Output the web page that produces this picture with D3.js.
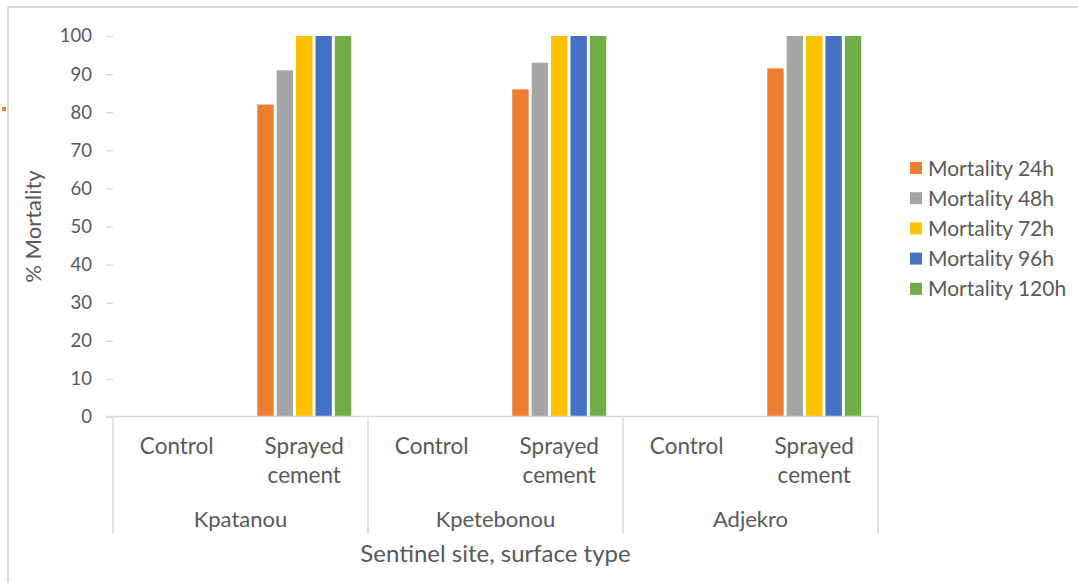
<!DOCTYPE html>
<html>
<head>
<meta charset="utf-8">
<script src="https://cdn.jsdelivr.net/npm/d3@7/dist/d3.min.js"></script>
<style>
  html, body { margin: 0; padding: 0; background: #fff; }
  svg { display: block; }
  text { font-family: Lato, "Open Sans", sans-serif; fill: #595959; }
</style>
</head>
<body>
<svg id="chart" width="1078" height="583"></svg>
<script>
// Sentinel sites and surface types
const sites = ["Kpatanou", "Kpetebonou", "Adjekro"];
const surfaces = ["Control", "Sprayed cement"];
const seriesNames = ["Mortality 24h", "Mortality 48h", "Mortality 72h", "Mortality 96h", "Mortality 120h"];
const seriesColors = ["#ED7D31", "#A5A5A5", "#FFC000", "#4472C4", "#70AD47"];
const yTicks = [0, 10, 20, 30, 40, 50, 60, 70, 80, 90, 100];

// % mortality per series, ordered site by site: [Control, Sprayed cement]
const mortality24h  = [0, 82,   0, 86,   0, 91.5];
const mortality48h  = [0, 91,   0, 93,   0, 100];
const mortality72h  = [0, 100,  0, 100,  0, 100];
const mortality96h  = [0, 100,  0, 100,  0, 100];
const mortality120h = [0, 100,  0, 100,  0, 100];
const seriesValues = [mortality24h, mortality48h, mortality72h, mortality96h, mortality120h];

const svg = d3.select("#chart");
const plot = { left: 113, right: 878, top: 36, bottom: 417 };

// chart frame (left and top edges)
svg.append("line").attr("x1", 8).attr("x2", 8).attr("y1", 7).attr("y2", 583)
  .attr("stroke", "#d9d9d9").attr("stroke-width", 2);
svg.append("line").attr("x1", 8).attr("x2", 1078).attr("y1", 7).attr("y2", 7)
  .attr("stroke", "#d9d9d9").attr("stroke-width", 2);
svg.append("rect").attr("x", 2).attr("y", 107).attr("width", 4).attr("height", 4)
  .attr("fill", "#ED7D31");

// flat list of (site, surface) slots
const slots = [];
sites.forEach(s => surfaces.forEach(t => slots.push({ site: s, surface: t, key: s + "|" + t })));

const x0 = d3.scaleBand().domain(slots.map(d => d.key)).range([plot.left, plot.right]);
const xSite = d3.scaleBand().domain(sites).range([plot.left, plot.right]);
const y = d3.scaleLinear().domain([0, 100]).range([plot.bottom, plot.top]);
const barBlock = 94;
const x1 = d3.scaleBand().domain(seriesNames)
  .range([(x0.bandwidth() - barBlock) / 2, (x0.bandwidth() + barBlock) / 2])
  .paddingInner(0.155);

// y axis: ticks and labels only
const yAxis = d3.axisLeft(y).tickValues(yTicks).tickSize(7).tickPadding(14);
const gy = svg.append("g").attr("transform", `translate(${plot.left},0)`).call(yAxis);
gy.select(".domain").remove();
gy.selectAll(".tick line").attr("stroke", "#d9d9d9").attr("stroke-width", 1.3);
gy.selectAll(".tick text").attr("font-size", 18.5).style("fill", "#595959")
  .attr("font-family", "Lato, 'Open Sans', sans-serif");

// bars
slots.forEach((slot, i) => {
  const g = svg.append("g").attr("transform", `translate(${x0(slot.key)},0)`);
  seriesNames.forEach((name, k) => {
    const v = seriesValues[k][i];
    if (v <= 0) return;
    g.append("rect")
      .attr("x", x1(name))
      .attr("width", x1.bandwidth())
      .attr("y", y(v))
      .attr("height", y(0) - y(v))
      .attr("fill", seriesColors[k]);
  });
});

// category axis line and site separators
svg.append("line").attr("x1", 106).attr("x2", plot.right).attr("y1", plot.bottom - 0.5).attr("y2", plot.bottom - 0.5)
  .attr("stroke", "#d9d9d9").attr("stroke-width", 1.5);
const seps = sites.map(s => xSite(s)).concat([plot.right]);
svg.selectAll(".sep").data(seps).enter().append("line")
  .attr("x1", d => d).attr("x2", d => d)
  .attr("y1", plot.bottom - 0.5).attr("y2", 534)
  .attr("stroke", "#d9d9d9").attr("stroke-width", 1.5);

// surface labels
slots.forEach(slot => {
  const cx = x0(slot.key) + x0.bandwidth() / 2;
  const words = slot.surface === "Sprayed cement" ? ["Sprayed", "cement"] : [slot.surface];
  words.forEach((w, j) => {
    svg.append("text").attr("x", cx).attr("y", 454 + j * 28.5)
      .attr("text-anchor", "middle").attr("font-size", 22.5).text(w);
  });
});

// site labels
sites.forEach(s => {
  svg.append("text").attr("x", xSite(s) + xSite.bandwidth() / 2).attr("y", 527)
    .attr("text-anchor", "middle").attr("font-size", 22).text(s);
});

// axis titles
svg.append("text").attr("x", (plot.left + plot.right) / 2).attr("y", 562)
  .attr("text-anchor", "middle").attr("font-size", 24).text("Sentinel site, surface type");
svg.append("text")
  .attr("transform", `translate(41,${(plot.top + plot.bottom) / 2}) rotate(-90)`)
  .attr("text-anchor", "middle").attr("font-size", 22).text("% Mortality");

// legend
const legend = svg.append("g").attr("transform", "translate(910,168)");
seriesNames.forEach((name, k) => {
  const row = legend.append("g").attr("transform", `translate(0,${k * 30.2})`);
  row.append("rect").attr("x", 0).attr("y", -6).attr("width", 12).attr("height", 12).attr("fill", seriesColors[k]);
  row.append("text").attr("x", 18).attr("y", 7.5).attr("font-size", 21).text(name);
});
</script>
</body>
</html>
